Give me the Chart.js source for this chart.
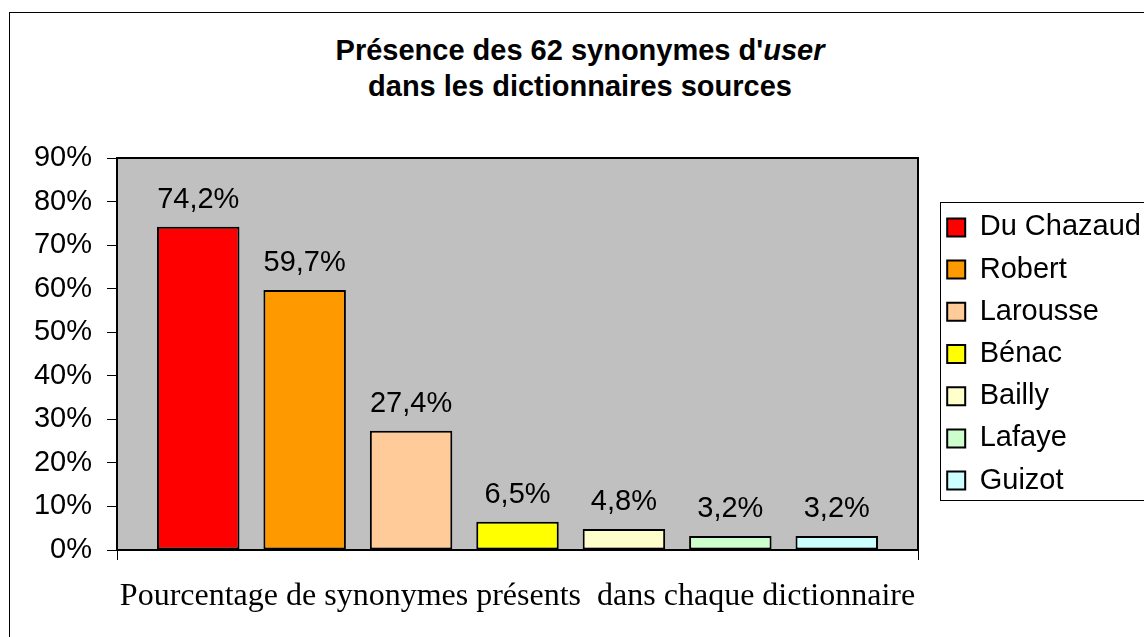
<!DOCTYPE html>
<html><head><meta charset="utf-8">
<script src="https://cdn.jsdelivr.net/npm/chart.js@4/dist/chart.umd.min.js"></script>
<style>
html,body{margin:0;padding:0;background:#fff;overflow:hidden;width:1144px;height:637px;}
#frame{position:absolute;left:9px;top:12px;width:1200px;height:700px;border:1px solid #000;box-sizing:border-box;}
#title{position:absolute;left:0;top:32px;width:1160px;text-align:center;font:bold 29px "Liberation Sans",Arial,sans-serif;line-height:36px;color:#000;}
#wrap{position:absolute;left:0;top:0;width:1144px;height:637px;}
</style></head>
<body>
<div id="frame"></div>
<div id="title">Présence des 62 synonymes d'<i>user</i><br>dans les dictionnaires sources</div>
<div id="wrap"><canvas id="c" width="1144" height="637"></canvas></div>
<script>
const categories = [''];
const dictionaries = ['Du Chazaud', 'Robert', 'Larousse', 'Bénac', 'Bailly', 'Lafaye', 'Guizot'];
const percentages = [74.2, 59.7, 27.4, 6.5, 4.8, 3.2, 3.2];
const barColors = ['#FF0000', '#FF9900', '#FFCC99', '#FFFF00', '#FFFFCC', '#CCFFCC', '#CCFFFF'];
const yTickValues = [0, 10, 20, 30, 40, 50, 60, 70, 80, 90];
const xTitle = 'Pourcentage de synonymes présents  dans chaque dictionnaire';

Chart.defaults.font.family = '"Liberation Sans", Arial, sans-serif';
Chart.defaults.color = '#000';

const fmt = v => v.toFixed(1).replace('.', ',') + '%';

const plotDecor = {
  id: 'plotDecor',
  afterLayout(chart) {
    const L = chart.legend;
    L.left += 16;
    L.right = 1300;
    L.width = L.right - L.left;
  },
  beforeDraw(chart) {
    const {ctx, chartArea: a} = chart;
    ctx.save();
    ctx.fillStyle = '#C0C0C0';
    ctx.fillRect(a.left, a.top, a.right - a.left, a.bottom - a.top);
    ctx.restore();
  },
  afterDatasetsDraw(chart) {
    const {ctx} = chart;
    ctx.save();
    ctx.font = '29px "Liberation Sans", Arial, sans-serif';
    ctx.fillStyle = '#000';
    ctx.textAlign = 'center';
    ctx.textBaseline = 'alphabetic';
    chart.data.datasets.forEach((ds, i) => {
      const bar = chart.getDatasetMeta(i).data[0];
      ctx.fillText(fmt(ds.data[0]), bar.x, bar.y - 19);
    });
    ctx.restore();
  },
  afterDraw(chart) {
    const {ctx, chartArea: a} = chart;
    ctx.save();
    ctx.strokeStyle = '#000';
    ctx.lineWidth = 2;
    ctx.beginPath();
    ctx.moveTo(a.left, a.top);
    ctx.lineTo(a.right, a.top);
    ctx.lineTo(a.right, a.bottom);
    ctx.stroke();
    // legend frame
    const L = chart.legend;
    const pad = L.options.labels.padding;
    const itemH = 29;
    const pitch = itemH + pad;
    const startY = (L.top + pad + L.bottom - L.columnSizes[0].height) / 2;
    const n = chart.data.datasets.length;
    ctx.lineWidth = 1;
    ctx.strokeRect(940.5, Math.round(startY - 11) + 0.5, 300, Math.round((n - 1) * pitch + itemH + 16));
    ctx.restore();
  }
};

new Chart(document.getElementById('c'), {
  type: 'bar',
  data: {
    labels: categories,
    datasets: dictionaries.map((name, i) => ({
      label: name,
      data: [percentages[i]],
      backgroundColor: barColors[i],
      borderColor: '#000',
      borderWidth: 2,
      borderSkipped: false,
      categoryPercentage: 0.93,
      barPercentage: 0.775
    }))
  },
  options: {
    responsive: false,
    animation: false,
    devicePixelRatio: 1,
    layout: { padding: { top: 158, left: 34, bottom: 20.8, right: 76 } },
    plugins: {
      title: { display: false },
      tooltip: { enabled: false },
      legend: {
        position: 'right',
        fullSize: false,
        maxWidth: 150,
        labels: {
          font: { size: 29 },
          color: '#000',
          boxWidth: 18,
          boxHeight: 18,
          padding: 13.2
        }
      }
    },
    scales: {
      x: {
        offset: true,
        grid: { display: true, drawOnChartArea: false, drawTicks: true, tickLength: 10, color: '#000', lineWidth: 1 },
        border: { display: true, color: '#000', width: 2 },
        ticks: { display: false },
        title: { display: true, text: xTitle, color: '#000', font: { family: '"Liberation Serif", "Times New Roman", serif', size: 32 }, padding: { top: 17.8, bottom: 0 } }
      },
      y: {
        min: 0, max: 90,
        afterBuildTicks: s => { s.ticks = yTickValues.map(v => ({ value: v })); },
        ticks: { callback: v => v + '%', font: { size: 29 }, color: '#000', padding: 15 },
        grid: { drawOnChartArea: false, drawTicks: true, tickLength: 10, color: '#000', lineWidth: 1 },
        border: { display: true, color: '#000', width: 2 },
        afterFit: s => { s.width = 83; }
      }
    }
  },
  plugins: [plotDecor]
});
</script>
</body></html>
